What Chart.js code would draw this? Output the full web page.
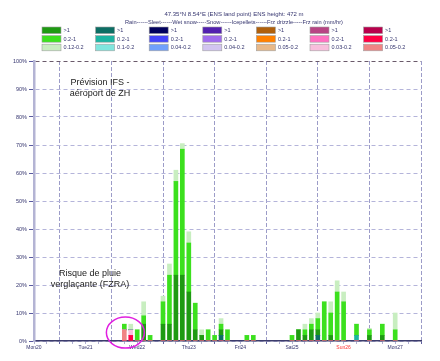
<!DOCTYPE html>
<html>
<head>
<meta charset="utf-8">
<script src="https://cdn.jsdelivr.net/npm/chart.js@4.4.0/dist/chart.umd.min.js"></script>
<style>
  body { margin: 0; background: #fff; }
  canvas { display: block; }
</style>
</head>
<body>
<canvas id="meteogram" width="440" height="361"></canvas>
<script>
// bar times, hours after Mon20 00 UTC
const hours = [54, 57, 60, 63, 66, 72, 75, 78, 81, 84, 87, 90, 93, 96, 99, 102, 111, 114,
               132, 135, 138, 141, 144, 147, 150, 153, 156, 162, 168, 174, 180];

// stacked segment heights (% of members)
const frzRainMod   = [0, 2, 0, 0, 0, 0, 0, 0, 0, 0, 0, 0, 0, 0, 0, 0, 0, 0, 0, 0, 0, 0, 0, 0, 0, 0, 0, 0, 0, 0, 0];
const frzRainLight = [4, 0, 0, 0, 0, 0, 0, 0, 0, 0, 0, 0, 0, 0, 0, 0, 0, 0, 0, 0, 0, 0, 0, 0, 0, 0, 0, 0, 0, 0, 0];
const frzDrzLight  = [0, 2, 0, 0, 0, 0, 0, 0, 0, 0, 0, 0, 0, 0, 0, 0, 0, 0, 0, 0, 0, 0, 0, 0, 0, 0, 0, 0, 0, 0, 0];
const sleetHeavy   = [0, 0, 0, 0, 0, 0, 0, 0, 0, 0, 0, 0, 0, 0, 2, 0, 0, 0, 0, 0, 0, 0, 2, 0, 0, 0, 0, 0, 0, 0, 0];
const sleetMod     = [0, 0, 0, 0, 0, 0, 0, 0, 0, 0, 0, 0, 0, 0, 0, 0, 0, 0, 0, 0, 0, 0, 0, 0, 0, 0, 0, 2, 0, 0, 0];
const rainHeavy    = [0, 0, 0, 6, 0, 6, 6, 23.5, 23.5, 17.5, 4, 2, 0, 0, 2, 0, 0, 0, 0, 4, 2, 4, 2, 0, 2, 0, 0, 0, 2, 2, 0];
const rainMod      = [2, 0, 4, 3, 2, 8, 17.5, 33.5, 45, 17.5, 9.5, 0, 4, 2, 2, 4, 2, 2, 2, 0, 2, 2, 4, 14, 8, 17.5, 14, 4, 2, 4, 4];
const rainLight    = [0, 2, 0, 5, 0, 2, 4, 4, 2, 4, 0, 2, 0, 0, 2, 0, 0, 0, 0, 0, 2, 2, 2, 0, 4, 4, 3.5, 0, 0.5, 0, 6];

const dayLabels = ['Mon20', 'Tue21', 'Wed22', 'Thu23', 'Fri24', 'Sat25', 'Sun26', 'Mon27'];
const yTicks = [0, 10, 20, 30, 40, 50, 60, 70, 80, 90, 100];

// legend table of the header
const ptypes = ['Rain', 'Sleet', 'Wet snow', 'Snow', 'Icepellets', 'Frz drizzle', 'Frz rain'];
const lightLabels = ['0.12-0.2', '0.1-0.2', '0.04-0.2', '0.04-0.2', '0.05-0.2', '0.03-0.2', '0.05-0.2'];
const palette = [
  ['#1e9a12', '#3ce01e', '#c8eec0'],
  ['#0c6e64', '#1cb4a2', '#80e6de'],
  ['#00005e', '#4444fa', '#70a0fc'],
  ['#5220b0', '#a06cee', '#d2c4f0'],
  ['#b0600c', '#ff8000', '#e8b888'],
  ['#b84484', '#ff70c0', '#f8bedc'],
  ['#b8004c', '#ff0044', '#f08484']
];

const navy = '#34346e';

const overlay = {
  id: 'overlay',
  afterDraw(chart) {
    const c = chart.ctx;
    c.save();
    c.fillStyle = navy;
    c.textAlign = 'center';
    c.font = '6px "Liberation Sans"';
    c.fillText('47.35°N 8.54°E (ENS land point) ENS height: 472 m', 234, 15.5, 140);
    c.fillText('Rain------Sleet------Wet snow-----Snow------Icepellets------Frz drizzle-----Frz rain (mm/hr)', 234, 23.5, 218);

    c.textAlign = 'left';
    c.font = '5.5px "Liberation Sans"';
    ptypes.forEach((t, i) => {
      const x0 = 42 + i * 53.6;
      ['>1', '0.2-1', lightLabels[i]].forEach((lab, j) => {
        const y0 = 27 + j * 8.6;
        c.fillStyle = palette[i][j];
        c.fillRect(x0, y0, 19, 6.6);
        c.strokeStyle = '#a0a0a0';
        c.lineWidth = 0.6;
        c.strokeRect(x0, y0, 19, 6.6);
        c.fillStyle = navy;
        c.fillText(lab, x0 + 21.5, y0 + 5.2);
      });
    });

    c.fillStyle = '#222';
    c.textAlign = 'center';
    c.font = '9px "Liberation Sans"';
    c.fillText('Prévision IFS -', 100, 85);
    c.fillText('aéroport de ZH', 100, 95.5);
    c.fillText('Risque de pluie', 90, 276);
    c.fillText('verglaçante (FZRA)', 90, 286.5);

    const { x, y } = chart.scales;
    c.strokeStyle = '#e020e0';
    c.lineWidth = 1.5;
    c.beginPath();
    c.ellipse(x.getPixelForValue(54.5), y.getPixelForValue(3), 19, 15.5, 0, 0, Math.PI * 2);
    c.stroke();
    c.restore();
  }
};

function seg(data, color) {
  return { data: data, backgroundColor: color, borderWidth: 0, barThickness: 4 };
}

new Chart(document.getElementById('meteogram'), {
  type: 'bar',
  data: {
    labels: hours,
    datasets: [
      seg(frzRainMod, palette[6][1]),
      seg(frzRainLight, palette[6][2]),
      seg(frzDrzLight, palette[5][2]),
      seg(sleetHeavy, palette[1][0]),
      seg(sleetMod, palette[1][1]),
      seg(rainHeavy, palette[0][0]),
      seg(rainMod, palette[0][1]),
      seg(rainLight, palette[0][2])
    ]
  },
  options: {
    responsive: false,
    animation: false,
    events: [],
    layout: { padding: { top: 61, right: 19, left: 0, bottom: 0 } },
    plugins: { legend: { display: false }, tooltip: { enabled: false } },
    scales: {
      x: {
        type: 'linear',
        stacked: true,
        min: 12,
        max: 192,
        offset: false,
        afterBuildTicks: (s) => {
          const t = [];
          for (let v = 12; v <= 192; v += 6) t.push({ value: v });
          s.ticks = t;
        },
        afterFit: (s) => { s.height = 20; },
        ticks: {
          autoSkip: false,
          maxRotation: 0,
          padding: 1,
          font: { family: 'Liberation Sans', size: 5 },
          color: (ctx) => (ctx.tick.value === 156 ? '#ff3030' : navy),
          callback: (v) => (v % 24 === 12 ? dayLabels[(v - 12) / 24] : '')
        },
        grid: {
          offset: false,
          color: (ctx) => (ctx.tick && ctx.tick.value % 24 === 0 ? '#9c9cc8' : 'rgba(0,0,0,0)'),
          lineWidth: 1,
          tickLength: 3,
          tickColor: (ctx) => (ctx.tick && ctx.tick.value % 24 === 0 ? '#6060a0' : '#b0b0d0')
        },
        border: { color: '#3c3c6c', width: 1.5, dash: [4, 2] }
      },
      y: {
        stacked: true,
        min: 0,
        max: 100,
        afterBuildTicks: (s) => { s.ticks = yTicks.map(v => ({ value: v })); },
        afterFit: (s) => { s.width = 34; },
        ticks: {
          padding: 2,
          font: { family: 'Liberation Sans', size: 5.5 },
          color: navy,
          callback: (v) => v + '%'
        },
        grid: {
          color: (ctx) => (ctx.tick && ctx.tick.value === 100 ? '#6a5a6a' : '#b4b4da'),
          lineWidth: 1,
          tickLength: 5,
          tickColor: '#5a5aa0'
        },
        border: { color: '#b4b4d4', width: 2.5, dash: [4, 3] }
      }
    }
  },
  plugins: [overlay]
});
</script>
</body>
</html>
